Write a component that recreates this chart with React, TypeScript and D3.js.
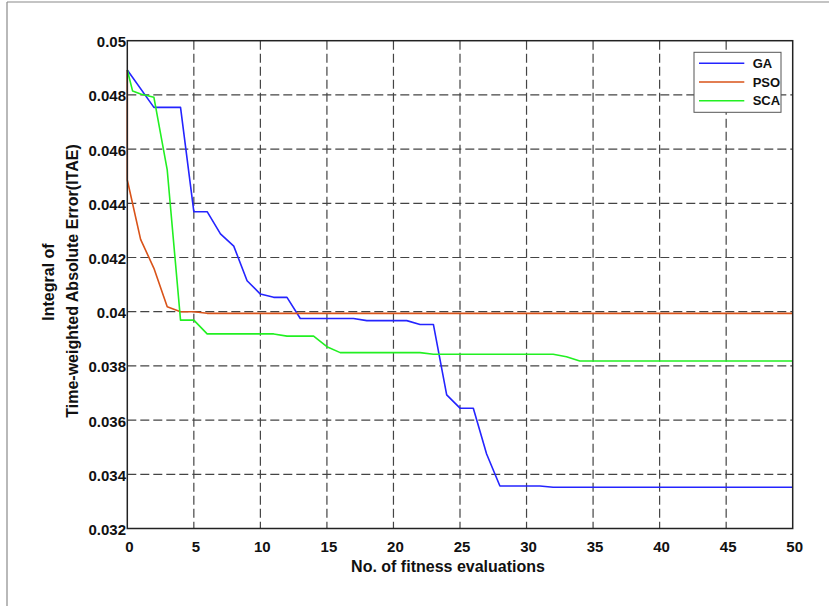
import React from "react";
import * as d3 from "d3";

const gaX = [0, 2, 4, 5, 6, 7, 8, 9, 10, 11, 12, 13, 17, 18, 21, 22, 23, 24, 25, 26, 27, 28, 31, 32, 50];
const gaY = [0.04892, 0.04754, 0.04754, 0.04369, 0.04369, 0.04287, 0.04242, 0.04114, 0.04065, 0.04053, 0.04053, 0.03975, 0.03975, 0.03967, 0.03967, 0.03953, 0.03953, 0.03693, 0.03644, 0.03644, 0.03475, 0.03357, 0.03357, 0.03352, 0.03352];

const psoX = [0, 0, 1, 2, 3, 4, 5, 6, 50];
const psoY = [0.04892, 0.04486, 0.04267, 0.0416, 0.04018, 0.04, 0.04, 0.03994, 0.03994];

const scaX = [0, 0.4, 1, 2, 3, 4, 5, 6, 11, 12, 14, 15, 16, 22, 23, 32, 33, 34, 50];
const scaY = [0.04892, 0.04814, 0.04803, 0.04791, 0.04523, 0.03969, 0.03969, 0.03918, 0.03918, 0.0391, 0.0391, 0.03871, 0.03849, 0.03849, 0.03843, 0.03843, 0.03834, 0.03818, 0.03818];

const xTicks = [0, 5, 10, 15, 20, 25, 30, 35, 40, 45, 50];
const yTicks = [0.032, 0.034, 0.036, 0.038, 0.04, 0.042, 0.044, 0.046, 0.048, 0.05];
const yTickLabels = ["0.032", "0.034", "0.036", "0.038", "0.04", "0.042", "0.044", "0.046", "0.048", "0.05"];

const seriesNames = ["GA", "PSO", "SCA"];
const seriesColors = ["#2424ff", "#d95319", "#22f022"];

const W = 829;
const H = 606;
const L = 127.3, R = 792.7, T = 40.7, B = 528.5;
const FONT = "'Liberation Sans', Arial, sans-serif";

export default function App() {
  const x = d3.scaleLinear().domain([0, 50]).range([L, R]);
  const y = d3.scaleLinear().domain([0.032, 0.05]).range([B, T]);
  const line = d3
    .line<[number, number]>()
    .x((d) => x(d[0]))
    .y((d) => y(d[1]));

  const series = [
    gaX.map((v, i) => [v, gaY[i]] as [number, number]),
    psoX.map((v, i) => [v, psoY[i]] as [number, number]),
    scaX.map((v, i) => [v, scaY[i]] as [number, number]),
  ];

  const legX = 694, legY = 52.3, legW = 87, legH = 60;
  const rowY = [63.3, 82, 100.7];

  return (
    <svg
      width={W}
      height={H}
      style={{ position: "absolute", left: 0, top: 0, background: "#fff" }}
      fontFamily={FONT}
    >
      <rect x={0} y={0} width={W} height={H} fill="#fff" />
      {/* outer frame */}
      <line x1={7} y1={2} x2={7} y2={H} stroke="#8a8a8a" strokeWidth={1.2} />
      <line x1={7} y1={2} x2={W} y2={2} stroke="#8a8a8a" strokeWidth={1.2} />

      {/* grid */}
      {xTicks.slice(1, -1).map((t) => (
        <line key={"gx" + t} x1={x(t)} x2={x(t)} y1={T} y2={B} stroke="#444" strokeWidth={1.2} strokeDasharray="9,4" />
      ))}
      {yTicks.slice(1, -1).map((t) => (
        <line key={"gy" + t} x1={L} x2={R} y1={y(t)} y2={y(t)} stroke="#444" strokeWidth={1.2} strokeDasharray="9,4" />
      ))}

      {/* series */}
      {series.map((s, i) => (
        <path key={seriesNames[i]} d={line(s) || ""} fill="none" stroke={seriesColors[i]} strokeWidth={1.6} strokeLinejoin="round" />
      ))}

      {/* axes box */}
      <rect x={L} y={T} width={R - L} height={B - T} fill="none" stroke="#222" strokeWidth={1.5} />

      {/* tick labels */}
      {yTicks.map((t, i) => (
        <text key={"yl" + t} x={126} y={y(t) + 6.5} textAnchor="end" fontSize={15} fontWeight="bold" fill="#111">
          {yTickLabels[i]}
        </text>
      ))}
      {xTicks.map((t) => (
        <text key={"xl" + t} x={x(t) + 2} y={551.5} textAnchor="middle" fontSize={15} fontWeight="bold" fill="#111">
          {t}
        </text>
      ))}

      {/* axis labels */}
      <text x={448} y={572.3} textAnchor="middle" fontSize={16} fontWeight="bold" fill="#111">
        No. of fitness evaluations
      </text>
      <text transform={`translate(54,282) rotate(-90)`} textAnchor="middle" fontSize={16} fontWeight="bold" fill="#111">
        Integral of
      </text>
      <text transform={`translate(78,281) rotate(-90)`} textAnchor="middle" fontSize={16} fontWeight="bold" fill="#111">
        Time-weighted Absolute Error(ITAE)
      </text>

      {/* legend */}
      <rect x={legX} y={legY} width={legW} height={legH} fill="#fff" stroke="#555" strokeWidth={1} />
      {seriesNames.map((n, i) => (
        <g key={"lg" + n}>
          <line x1={699} x2={744.3} y1={rowY[i]} y2={rowY[i]} stroke={seriesColors[i]} strokeWidth={1.6} />
          <text x={752.7} y={rowY[i] + 4.5} fontSize={13} fontWeight="bold" fill="#111">
            {n}
          </text>
        </g>
      ))}
    </svg>
  );
}
